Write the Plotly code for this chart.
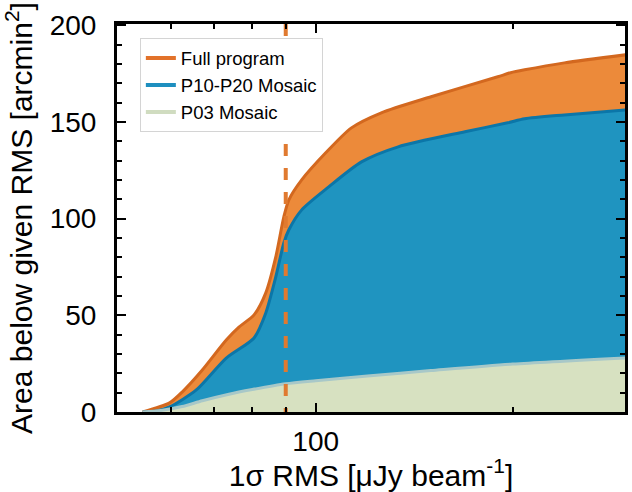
import numpy as np
import plotly.graph_objects as go

# ---- data ----
full_x = [54.4, 59.8, 62.5, 67.1, 73.0, 76.4, 80.5, 83.9, 86.9, 89.4, 91.0, 95.2,
          103.6, 113.4, 126.0, 150.1, 189.8, 198.6, 208.6, 239.9, 298.0]
full_y = [0, 4.7, 10.3, 21.7, 37.2, 44.0, 50.2, 61.6, 80.2, 100.9, 109.7, 120.0,
          134.0, 146.9, 154.7, 163.0, 173.3, 175.4, 176.9, 180.5, 184.7]

mos_x = [54.4, 57.1, 59.8, 65.7, 73.0, 80.5, 83.9, 86.9, 89.4, 91.0, 95.2, 104.7,
         117.5, 133.7, 169.1, 196.5, 208.6, 239.9, 298.0]
mos_y = [0, 0.5, 2.6, 11.4, 27.9, 38.3, 51.2, 69.8, 87.4, 94.2, 104.5, 116.4,
         129.3, 137.1, 144.9, 149.5, 151.6, 153.6, 156.2]

p03_x = [54.4, 58.0, 62.5, 67.1, 73.7, 80.0, 90.0, 100.0, 120.0, 150.0, 200.0, 298.0]
p03_y = [0, 0.8, 2.8, 5.8, 9.2, 11.6, 14.6, 16.2, 18.6, 21.4, 24.8, 28.0]

dash_x = 90
names = ["Full program", "P10-P20 Mosaic", "P03 Mosaic"]
x_major = [100]
x_minor = [60, 70, 80, 90, 200]

Y_TOP = 200.6
FONT = "Liberation Sans, Arial, sans-serif"
fills = ["#ec8a3a", "#1f94c0", "#d7e1c1"]
edges = ["#d3681f", "#0b76a8", "#a8c8c8"]
legend_cols = ["#e2722a", "#1e8fbf", "#d0dcc0"]

fig = go.Figure()
for xs, ys, fc, ec in [(full_x, full_y, fills[0], edges[0]),
                       (mos_x, mos_y, fills[1], edges[1]),
                       (p03_x, p03_y, fills[2], edges[2])]:
    fig.add_trace(go.Scatter(x=xs, y=ys, mode="lines", fill="tozeroy",
                             fillcolor=fc, line=dict(color=ec, width=3, shape="spline", smoothing=0.7),
                             showlegend=False, hoverinfo="skip"))

fig.add_trace(go.Scatter(x=[dash_x, dash_x], y=[Y_TOP, 0], mode="lines",
                         line=dict(color="#e07a30", width=4, dash="12px,12px"),
                         showlegend=False, hoverinfo="skip"))

for n, c in zip(names, legend_cols):
    fig.add_trace(go.Scatter(x=[None], y=[None], mode="lines", name=n,
                             line=dict(color=c, width=4)))

axis_common = dict(showline=True, linecolor="black", linewidth=3, mirror="allticks",
                   ticks="inside", tickcolor="black", tickwidth=2, ticklen=9,
                   showgrid=False, zeroline=False,
                   tickfont=dict(family=FONT, size=28, color="black"))

fig.update_xaxes(type="log", range=[np.log10(49.7), np.log10(297)],
                 tickvals=x_major, ticktext=[str(v) for v in x_major],
                 minor=dict(tickvals=x_minor, ticklen=5, tickwidth=2, tickcolor="black", ticks="inside"),
                 ticklabelstandoff=2,
                 title=dict(text="1σ RMS [μJy beam<sup>-1</sup>]",
                            font=dict(family=FONT, size=30, color="black"), standoff=2),
                 **axis_common)
fig.update_yaxes(range=[0, Y_TOP], tickvals=[0, 50, 100, 150, 200],
                 minor=dict(dtick=10, ticklen=5, tickwidth=2, tickcolor="black", ticks="inside"),
                 ticklabelstandoff=12,
                 title=dict(text="Area below given RMS [arcmin<sup>2</sup>]",
                            font=dict(family=FONT, size=30, color="black"), standoff=14),
                 **axis_common)

fig.update_layout(width=632, height=492, margin=dict(l=117, r=4, t=24, b=80),
                  paper_bgcolor="white", plot_bgcolor="white",
                  font=dict(family=FONT, color="black"),
                  legend=dict(x=0.045, y=0.963, xanchor="left", yanchor="top",
                              bgcolor="white", bordercolor="#d4d4d4", borderwidth=1,
                              font=dict(family=FONT, size=18.5, color="black"),
                              itemwidth=30, tracegroupgap=0))

fig.write_html("out.html")
